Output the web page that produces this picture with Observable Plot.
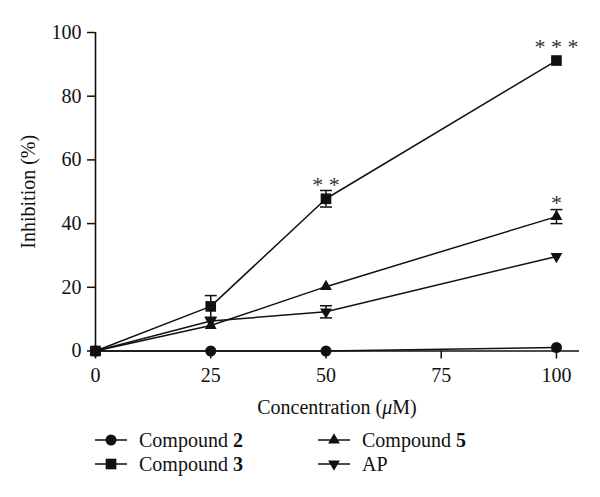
<!DOCTYPE html>
<html>
<head>
<meta charset="utf-8">
<script src="https://cdn.jsdelivr.net/npm/d3@7"></script>
<script src="https://cdn.jsdelivr.net/npm/@observablehq/plot@0.6"></script>
<style>
  html, body { margin: 0; padding: 0; background: #fff; }
  body { width: 600px; height: 497px; position: relative; font-family: "Liberation Serif", serif; color: #111; }
  #xtitle { position: absolute; left: 0; width: 674px; top: 396px; text-align: center; font-size: 20px; line-height: 22px; }
  .leg { position: absolute; font-size: 20px; line-height: 22px; display: flex; align-items: center; }
  .leg svg { margin-right: 10px; }
  #chart svg g[aria-label="y-axis label"] text { font-size: 20px; }
</style>
</head>
<body>
<div id="chart"></div>
<div id="xtitle">Concentration (<i>μ</i>M)</div>
<div id="legend"></div>
<script>
const concentrations = [0, 25, 50, 100];
const seriesNames = ["Compound 2", "Compound 3", "Compound 5", "AP"];
const compound2 = [0, 0, 0, 1.1];
const compound3 = [0, 14.0, 47.8, 91.2];
const compound5 = [0, 8.0, 20.2, 42.2];
const apValues = [0, 9.4, 12.3, 29.7];
const err2 = [0, 0, 0, 0];
const err3 = [0, 3.4, 2.6, 0];
const err5 = [0, 0, 0, 2.2];
const errAP = [0, 0, 1.9, 0];
const xTicks = [0, 25, 50, 75, 100];
const yTicks = [0, 20, 40, 60, 80, 100];
const annX = [50, 100, 100];
const annY = [47.8, 91.2, 42.2];
const annText = ["* *", "* * *", "*"];

const symbols = ["circle", "square", "triangle", "triangle"];
const rotations = [0, 0, 0, 180];
const radii = [5.5, 6, 4.4, 4.4];
const allValues = [compound2, compound3, compound5, apValues];
const allErr = [err2, err3, err5, errAP];

const rows = [];
seriesNames.forEach((s, i) => {
  concentrations.forEach((c, j) => {
    rows.push({series: s, idx: i, x: c, y: allValues[i][j], err: allErr[i][j]});
  });
});
const errRows = rows.filter(d => d.err > 0);
const ann = annX.map((x, i) => ({x, y: annY[i], text: annText[i]}));

const capSymbol = {
  draw(ctx, size) {
    const r = 6;
    ctx.moveTo(-r, 0);
    ctx.lineTo(r, 0);
  }
};

const ink = "#111";
const marks = [
  Plot.ruleY([0], {stroke: ink, strokeWidth: 1.6}),
  Plot.ruleX([0], {stroke: ink, strokeWidth: 1.6}),
  Plot.axisX({ticks: xTicks, tickSize: 8, tickPadding: 9, fontSize: 20, label: null, strokeWidth: 1.5}),
  Plot.axisY({ticks: yTicks, tickSize: 8, tickPadding: 6, fontSize: 20, label: "Inhibition (%)", labelAnchor: "center", labelArrow: "none", labelOffset: 75, strokeWidth: 1.5}),
  Plot.line(rows, {x: "x", y: "y", z: "series", stroke: ink, strokeWidth: 1.5}),
  Plot.ruleX(errRows, {x: "x", y1: d => d.y - d.err, y2: d => d.y + d.err, stroke: ink, strokeWidth: 1.5}),
  Plot.dot(errRows, {x: "x", y: d => d.y + d.err, symbol: capSymbol, stroke: ink, strokeWidth: 1.5, fill: "none"}),
  Plot.dot(errRows, {x: "x", y: d => d.y - d.err, symbol: capSymbol, stroke: ink, strokeWidth: 1.5, fill: "none"})
];
seriesNames.forEach((s, i) => {
  marks.push(Plot.dot(rows.filter(d => d.idx === i), {
    x: "x", y: "y", symbol: symbols[i], rotate: rotations[i], r: radii[i], fill: ink, stroke: "none"
  }));
});
marks.push(Plot.text(ann, {x: "x", y: "y", text: "text", dy: -7, fontSize: 22, fill: "#333", lineAnchor: "bottom"}));

const plot = Plot.plot({
  width: 600,
  height: 390,
  marginLeft: 95,
  marginRight: 21,
  marginTop: 32,
  marginBottom: 39.5,
  style: {fontFamily: "Liberation Serif", fontSize: "20px", color: ink, background: "#fff"},
  x: {domain: [0, 105]},
  y: {domain: [0, 100]},
  marks
});
document.getElementById("chart").appendChild(plot);

// Legend
const legendPos = [
  {left: 93, top: 429}, {left: 93, top: 453}, {left: 316, top: 429}, {left: 316, top: 453}
];
const legendLabels = [["Compound ", "2"], ["Compound ", "3"], ["Compound ", "5"], ["AP", ""]];
const legend = document.getElementById("legend");
seriesNames.forEach((s, i) => {
  const div = document.createElement("div");
  div.className = "leg";
  div.style.left = legendPos[i].left + "px";
  div.style.top = legendPos[i].top + "px";
  const svg = d3.create("svg").attr("width", 36).attr("height", 22);
  svg.append("line").attr("x1", 2).attr("x2", 34).attr("y1", 11).attr("y2", 11).attr("stroke", ink).attr("stroke-width", 1.5);
  const sym = {circle: d3.symbolCircle, square: d3.symbolSquare, triangle: d3.symbolTriangle}[symbols[i]];
  svg.append("path")
    .attr("d", d3.symbol(sym, Math.PI * radii[i] * radii[i])())
    .attr("transform", `translate(18,11) rotate(${rotations[i]})`)
    .attr("fill", ink);
  div.appendChild(svg.node());
  const span = document.createElement("span");
  span.textContent = legendLabels[i][0];
  if (legendLabels[i][1]) {
    const b = document.createElement("b");
    b.textContent = legendLabels[i][1];
    span.appendChild(b);
  }
  div.appendChild(span);
  legend.appendChild(div);
});
</script>
</body>
</html>
